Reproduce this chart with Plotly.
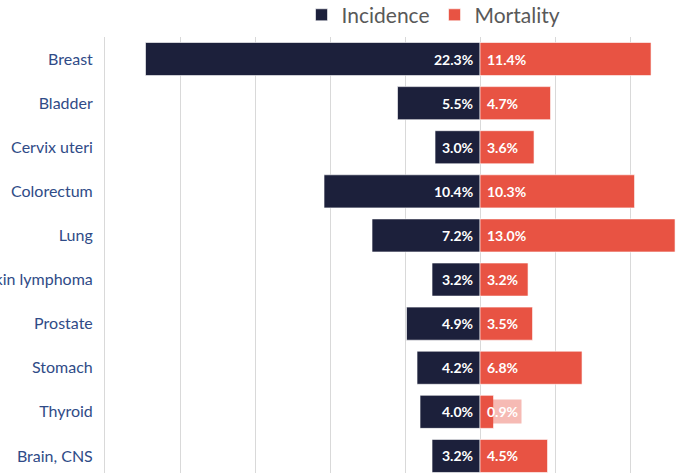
import plotly.graph_objects as go

categories = ["Breast", "Bladder", "Cervix uteri", "Colorectum", "Lung",
              "Non-Hodgkin lymphoma", "Prostate", "Stomach", "Thyroid", "Brain, CNS"]
incidence = [22.3, 5.5, 3.0, 10.4, 7.2, 3.2, 4.9, 4.2, 4.0, 3.2]
mortality = [11.4, 4.7, 3.6, 10.3, 13.0, 3.2, 3.5, 6.8, 0.9, 4.5]

INC_COLOR = "#1C203B"
MORT_COLOR = "#E85343"
FONT = "Lato"
SMALL = 2.0  # labels for bars shorter than this get a tinted background

fig = go.Figure()
fig.add_trace(go.Bar(
    name="Incidence", y=categories, x=[-v for v in incidence], orientation="h",
    marker=dict(color=INC_COLOR, line=dict(color="rgba(255,255,255,0.6)", width=1)),
    hoverinfo="skip",
))
fig.add_trace(go.Bar(
    name="Mortality", y=categories, x=mortality, orientation="h",
    marker=dict(color=MORT_COLOR, line=dict(color="rgba(255,255,255,0.6)", width=1)),
    hoverinfo="skip",
))
lab_font = dict(family=FONT, size=14, color="white")
for c, v in zip(categories, incidence):
    fig.add_annotation(x=0, y=c, xref="x", yref="y", text=f"<b>{v:.1f}%</b>",
                       showarrow=False, xanchor="right", xshift=-5, font=lab_font)
for c, v in zip(categories, mortality):
    small = v < SMALL
    fig.add_annotation(x=0, y=c, xref="x", yref="y", text=f"<b>{v:.1f}%</b>",
                       showarrow=False, xanchor="left", xshift=3 if small else 5,
                       bgcolor="rgba(232,83,67,0.4)" if small else None,
                       borderpad=3 if small else 1,
                       font=lab_font)

fig.update_layout(
    width=692, height=473,
    margin=dict(l=105, r=0, t=37, b=0, autoexpand=False),
    paper_bgcolor="white", plot_bgcolor="white",
    barmode="relative", bargap=0.25,
    font=dict(family=FONT),
    showlegend=True,
    legend=dict(orientation="h", x=0.3348, xanchor="left",
                yref="container", y=0.968, yanchor="middle",
                font=dict(family=FONT, size=21, color="#595959"),
                itemclick=False, traceorder="normal"),
    xaxis=dict(range=[-25, 14.13], dtick=5, tick0=0, showgrid=True,
               gridcolor="#D9D9D9", gridwidth=1, zeroline=True, zerolinecolor="#D9D9D9",
               zerolinewidth=1, showticklabels=False, fixedrange=True, automargin=False),
    yaxis=dict(categoryorder="array", categoryarray=categories, automargin=False,
               range=[9.387, -0.5], showline=True, linecolor="#D9D9D9", linewidth=1,
               ticklabelstandoff=8, tickfont=dict(family=FONT, size=16, color="#2F4B87"),
               showgrid=False, fixedrange=True),
)

fig.write_html("out.html", config={"displayModeBar": False},
               post_script="document.body.style.margin='0';")
